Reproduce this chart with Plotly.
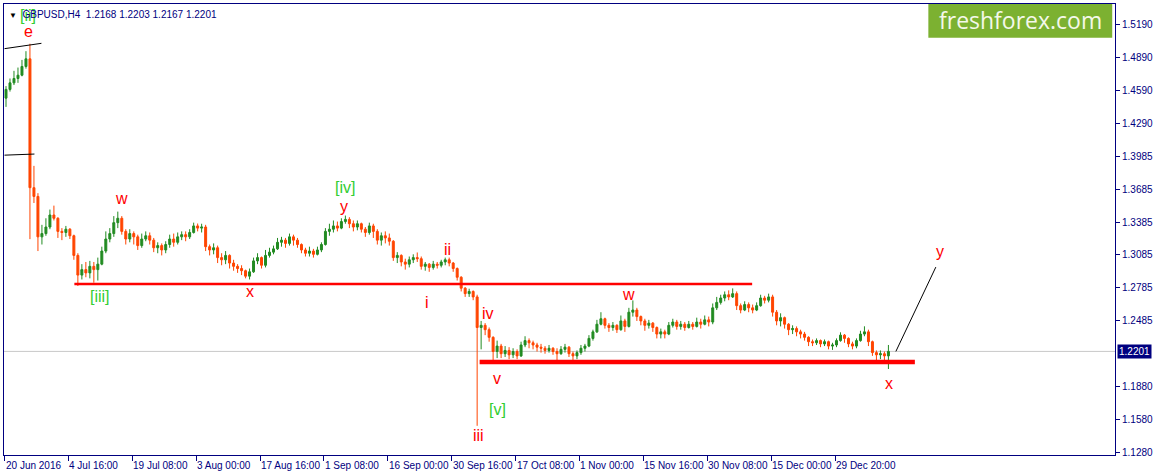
import plotly.graph_objects as go

# GBPUSD H4, one candle here = 4 H4 bars (16 hours)
BARS_PER_CANDLE = 4
first_open = 1.4520

closes = [
    1.4600, 1.4660, 1.4700, 1.4730, 1.4810, 1.4880, 1.3700, 1.3620, 1.3250, 1.3280,
    1.3340, 1.3450, 1.3420, 1.3300, 1.3290, 1.3320, 1.3260, 1.3080, 1.2900, 1.2950,
    1.2920, 1.2980, 1.2950, 1.3000, 1.3120, 1.3230, 1.3280, 1.3380, 1.3420, 1.3300,
    1.3230, 1.3280, 1.3250, 1.3170, 1.3230, 1.3260, 1.3220, 1.3150, 1.3170, 1.3130,
    1.3180, 1.3230, 1.3200, 1.3250, 1.3270, 1.3250, 1.3290, 1.3350, 1.3330, 1.3340,
    1.3160, 1.3130, 1.3150, 1.3060, 1.3040, 1.3080, 1.3010, 1.2980, 1.2960, 1.2940,
    1.2890, 1.2930, 1.3030, 1.3060, 1.2990, 1.3080, 1.3110, 1.3140, 1.3200, 1.3220,
    1.3190, 1.3250, 1.3220, 1.3180, 1.3130, 1.3100, 1.3120, 1.3090, 1.3130, 1.3180,
    1.3300, 1.3320, 1.3350, 1.3330, 1.3390, 1.3410, 1.3370, 1.3340, 1.3370, 1.3320,
    1.3290, 1.3350, 1.3300, 1.3220, 1.3260, 1.3240, 1.3210, 1.3060, 1.3080, 1.3020,
    1.3000, 1.3040, 1.3060, 1.3050, 1.2980, 1.3000, 1.2970, 1.3000, 1.2990, 1.3020,
    1.3040, 1.3010, 1.2960, 1.2880, 1.2780, 1.2730, 1.2750, 1.2700, 1.2420, 1.2440,
    1.2400, 1.2330, 1.2200, 1.2250, 1.2180, 1.2210, 1.2170, 1.2200, 1.2160, 1.2260,
    1.2300, 1.2280, 1.2260, 1.2240, 1.2230, 1.2210, 1.2230, 1.2200, 1.2180, 1.2220,
    1.2240, 1.2180, 1.2160, 1.2190, 1.2230, 1.2250, 1.2320, 1.2380, 1.2450, 1.2500,
    1.2440, 1.2420, 1.2440, 1.2400, 1.2480, 1.2430, 1.2560, 1.2580, 1.2520, 1.2480,
    1.2440, 1.2460, 1.2420, 1.2360, 1.2380, 1.2360, 1.2440, 1.2470, 1.2430, 1.2450,
    1.2420, 1.2450, 1.2430, 1.2470, 1.2450, 1.2490, 1.2470, 1.2600, 1.2650, 1.2690,
    1.2720, 1.2700, 1.2730, 1.2620, 1.2580, 1.2630, 1.2600, 1.2580, 1.2620, 1.2690,
    1.2670, 1.2700, 1.2560, 1.2480, 1.2510, 1.2450, 1.2400, 1.2410, 1.2380, 1.2360,
    1.2330, 1.2290, 1.2280, 1.2300, 1.2270, 1.2290, 1.2250, 1.2260, 1.2300, 1.2350,
    1.2320, 1.2270, 1.2250, 1.2300, 1.2360, 1.2380, 1.2290, 1.2190, 1.2170, 1.2180,
    1.2160, 1.2201,
]

highs = [
    1.4630, 1.4700, 1.4770, 1.4800, 1.4870, 1.4950, 1.5018, 1.3900, 1.3650, 1.3360,
    1.3420, 1.3500, 1.3536, 1.3430, 1.3330, 1.3350, 1.3330, 1.3270, 1.3100, 1.3000,
    1.3020, 1.3030, 1.3020, 1.3060, 1.3160, 1.3300, 1.3330, 1.3440, 1.3481, 1.3440,
    1.3320, 1.3320, 1.3300, 1.3270, 1.3280, 1.3300, 1.3290, 1.3240, 1.3200, 1.3190,
    1.3210, 1.3270, 1.3280, 1.3290, 1.3300, 1.3300, 1.3320, 1.3380, 1.3372, 1.3370,
    1.3360, 1.3180, 1.3190, 1.3170, 1.3100, 1.3120, 1.3090, 1.3040, 1.3000, 1.2990,
    1.2950, 1.2960, 1.3060, 1.3100, 1.3070, 1.3130, 1.3150, 1.3170, 1.3240, 1.3250,
    1.3240, 1.3280, 1.3270, 1.3240, 1.3190, 1.3150, 1.3160, 1.3140, 1.3160, 1.3200,
    1.3330, 1.3370, 1.3400, 1.3390, 1.3420, 1.3445, 1.3430, 1.3400, 1.3400, 1.3380,
    1.3340, 1.3380, 1.3370, 1.3320, 1.3290, 1.3300, 1.3280, 1.3220, 1.3110, 1.3090,
    1.3050, 1.3070, 1.3090, 1.3107, 1.3070, 1.3020, 1.3010, 1.3030, 1.3020, 1.3040,
    1.3060, 1.3060, 1.3020, 1.2970, 1.2890, 1.2790, 1.2775, 1.2760, 1.2720, 1.2480,
    1.2460, 1.2420, 1.2340, 1.2300, 1.2270, 1.2250, 1.2240, 1.2230, 1.2220, 1.2290,
    1.2340, 1.2320, 1.2300, 1.2280, 1.2270, 1.2250, 1.2260, 1.2240, 1.2230, 1.2250,
    1.2270, 1.2250, 1.2200, 1.2210, 1.2260, 1.2270, 1.2350, 1.2400, 1.2490, 1.2560,
    1.2510, 1.2460, 1.2470, 1.2450, 1.2530, 1.2500, 1.2600, 1.2668, 1.2600, 1.2530,
    1.2500, 1.2490, 1.2470, 1.2430, 1.2410, 1.2400, 1.2470, 1.2500, 1.2490, 1.2480,
    1.2470, 1.2480, 1.2470, 1.2510, 1.2500, 1.2530, 1.2520, 1.2640, 1.2700, 1.2720,
    1.2750, 1.2760, 1.2778, 1.2750, 1.2640, 1.2660, 1.2650, 1.2630, 1.2650, 1.2720,
    1.2710, 1.2730, 1.2720, 1.2580, 1.2550, 1.2520, 1.2460, 1.2440, 1.2430, 1.2400,
    1.2380, 1.2340, 1.2310, 1.2320, 1.2310, 1.2310, 1.2300, 1.2280, 1.2320, 1.2376,
    1.2360, 1.2330, 1.2290, 1.2320, 1.2390, 1.2431, 1.2400, 1.2300, 1.2210, 1.2210,
    1.2200, 1.2260,
]

lows = [
    1.4440, 1.4580, 1.4640, 1.4660, 1.4720, 1.4790, 1.3229, 1.3560, 1.3120, 1.3180,
    1.3260, 1.3320, 1.3400, 1.3240, 1.3220, 1.3250, 1.3230, 1.3040, 1.2800, 1.2860,
    1.2880, 1.2870, 1.2830, 1.2850, 1.2990, 1.3100, 1.3200, 1.3250, 1.3330, 1.3270,
    1.3180, 1.3200, 1.3180, 1.3130, 1.3150, 1.3210, 1.3180, 1.3110, 1.3100, 1.3080,
    1.3100, 1.3150, 1.3160, 1.3180, 1.3220, 1.3210, 1.3230, 1.3280, 1.3300, 1.3290,
    1.3120, 1.3080, 1.3090, 1.3010, 1.2990, 1.3000, 1.2960, 1.2940, 1.2920, 1.2900,
    1.2870, 1.2860, 1.2920, 1.3000, 1.2960, 1.2970, 1.3060, 1.3090, 1.3130, 1.3160,
    1.3150, 1.3170, 1.3170, 1.3150, 1.3100, 1.3070, 1.3070, 1.3060, 1.3080, 1.3110,
    1.3170, 1.3260, 1.3290, 1.3300, 1.3320, 1.3370, 1.3330, 1.3300, 1.3310, 1.3290,
    1.3250, 1.3270, 1.3240, 1.3180, 1.3170, 1.3190, 1.3170, 1.3030, 1.3010, 1.2980,
    1.2950, 1.2970, 1.3010, 1.3020, 1.2950, 1.2940, 1.2930, 1.2950, 1.2960, 1.2970,
    1.2990, 1.2980, 1.2930, 1.2850, 1.2750, 1.2700, 1.2700, 1.2670, 1.1520, 1.2220,
    1.2350, 1.2290, 1.2090, 1.2140, 1.2140, 1.2150, 1.2130, 1.2140, 1.2130, 1.2150,
    1.2240, 1.2230, 1.2220, 1.2200, 1.2190, 1.2180, 1.2190, 1.2170, 1.2090, 1.2170,
    1.2190, 1.2150, 1.2120, 1.2130, 1.2170, 1.2200, 1.2240, 1.2300, 1.2370, 1.2440,
    1.2410, 1.2380, 1.2390, 1.2370, 1.2390, 1.2380, 1.2420, 1.2520, 1.2480, 1.2440,
    1.2390, 1.2410, 1.2380, 1.2320, 1.2320, 1.2320, 1.2350, 1.2420, 1.2400, 1.2400,
    1.2390, 1.2410, 1.2400, 1.2420, 1.2410, 1.2440, 1.2430, 1.2450, 1.2580, 1.2630,
    1.2660, 1.2670, 1.2690, 1.2580, 1.2550, 1.2570, 1.2560, 1.2550, 1.2570, 1.2610,
    1.2640, 1.2650, 1.2520, 1.2440, 1.2430, 1.2410, 1.2350, 1.2360, 1.2340, 1.2320,
    1.2300, 1.2250, 1.2250, 1.2260, 1.2240, 1.2250, 1.2220, 1.2215, 1.2240, 1.2290,
    1.2280, 1.2240, 1.2220, 1.2230, 1.2290, 1.2340, 1.2250, 1.2160, 1.2120, 1.2130,
    1.2120, 1.2040,
]

# last H4 bar shown in the header: open, high, low, close
last_bar = [1.2168, 1.2203, 1.2167, 1.2201]

# time axis: one label every 64 H4 bars
tick_bars = [0, 64, 128, 192, 256, 320, 384, 448, 512, 576, 640, 704, 768, 832]
tick_text = ["20 Jun 2016", "4 Jul 16:00", "19 Jul 08:00", "3 Aug 00:00", "17 Aug 16:00",
             "1 Sep 08:00", "16 Sep 00:00", "30 Sep 16:00", "17 Oct 08:00", "1 Nov 00:00",
             "15 Nov 16:00", "30 Nov 08:00", "15 Dec 00:00", "29 Dec 20:00"]

price_ticks = [1.5190, 1.4890, 1.4590, 1.4290, 1.3985, 1.3685, 1.3385, 1.3085,
               1.2785, 1.2485, 1.1880, 1.1580, 1.1280]

# Elliott wave marks: text, bar, price, colour
wave_text = ["[ii]", "e", "w", "[iii]", "x", "[iv]", "y", "ii", "i", "iv", "v", "[v]", "iii", "w", "y", "x"]
wave_bar = [24, 24, 117, 96, 246, 341, 340, 444, 423, 484, 493, 494, 475, 625, 937, 886]
wave_price = [1.5281, 1.5126, 1.3600, 1.2705, 1.2751, 1.3701, 1.3527, 1.3134,
              1.2650, 1.2550, 1.1956, 1.1673, 1.1435, 1.2723, 1.3116, 1.1910]
wave_green = [True, False, False, True, False, True, False, False,
              False, False, False, True, False, False, False, False]

# support levels (bar from, bar to, price, width)
levels = [(70, 749, 1.2819, 2.5), (476, 912, 1.2105, 4.5)]
# black trend lines (bar0, price0, bar1, price1)
trend_lines = [(0, 1.4973, 37, 1.5022), (0, 1.3998, 30, 1.4008), (893, 1.2201, 933, 1.2973)]

opens = [first_open] + closes[:-1]
xs = [BARS_PER_CANDLE * k + 1.5 for k in range(len(closes))]

NAVY = "#000080"
UP = "#228b22"
DOWN = "#ff4500"

fig = go.Figure(go.Candlestick(
    x=xs, open=opens, high=highs, low=lows, close=closes,
    increasing=dict(line=dict(color=UP, width=1), fillcolor=UP),
    decreasing=dict(line=dict(color=DOWN, width=1), fillcolor=DOWN),
    whiskerwidth=0, hoverinfo="skip", showlegend=False,
))

shapes = [dict(type="line", xref="paper", yref="y", x0=0, x1=1, y0=closes[-1], y1=closes[-1],
               line=dict(color="#c8c8c8", width=1), layer="below")]
for b0, b1, p, w in levels:
    shapes.append(dict(type="line", x0=b0, x1=b1, y0=p, y1=p, line=dict(color="#ff0000", width=w)))
for b0, p0, b1, p1 in trend_lines:
    shapes.append(dict(type="line", x0=b0, x1=b1, y0=p0, y1=p1, line=dict(color="black", width=1)))
# watermark box
shapes.append(dict(type="rect", xref="paper", yref="paper", x0=0.832, x1=0.9975, y0=0.925, y1=1.0,
                   fillcolor="#7cb131", line=dict(width=0)))

annotations = []
for t, b, p, g in zip(wave_text, wave_bar, wave_price, wave_green):
    annotations.append(dict(x=b, y=p, text=t, showarrow=False,
                            font=dict(family="Liberation Sans", size=16,
                                      color="#32cd32" if g else "#ff0000")))

# time labels start at their tick, as in the terminal
for b, t in zip(tick_bars, tick_text):
    annotations.append(dict(x=b, xref="x", y=0, yref="paper", xanchor="left", yanchor="top",
                            xshift=-1, yshift=-3, text=t, showarrow=False,
                            font=dict(family="Liberation Sans", size=10, color=NAVY)))

annotations.append(dict(xref="paper", yref="paper", x=0.9148, y=0.964, xanchor="center", yanchor="middle",
                        text="freshforex.com", showarrow=False,
                        font=dict(family="Open Sans", size=23, color="#f4f8ea")))
annotations.append(dict(xref="paper", yref="paper", x=0, y=1, xanchor="left", yanchor="top",
                        xshift=3, yshift=-3,
                        text="<span style='color:black;font-size:8px'>▼</span>  GBPUSD,H4  "
                             + " ".join(f"{v:.4f}" for v in last_bar),
                        showarrow=False, font=dict(family="Liberation Sans", size=10, color=NAVY)))
annotations.append(dict(xref="paper", yref="y", x=1, y=closes[-1], xanchor="left", yanchor="middle",
                        xshift=2, text=f"{closes[-1]:.4f}", showarrow=False, bgcolor=NAVY, borderpad=1,
                        font=dict(family="Liberation Sans", size=10, color="white")))

fig.update_layout(
    width=1156, height=476,
    margin=dict(l=3, r=40, t=3, b=21),
    paper_bgcolor="white", plot_bgcolor="white",
    boxgap=0.3,
    shapes=shapes, annotations=annotations,
    xaxis=dict(range=[-0.5, 1112.5], rangeslider=dict(visible=False), showgrid=False, zeroline=False,
               tickmode="array", tickvals=tick_bars, showticklabels=False, ticks="outside", ticklen=5,
               tickcolor=NAVY, showline=True, linecolor=NAVY, linewidth=1, mirror=True),
    yaxis=dict(range=[1.12526, 1.5382], side="right", showgrid=False, zeroline=False,
               tickmode="array", tickvals=price_ticks, ticktext=[f"{v:.4f}" for v in price_ticks],
               ticks="outside", ticklen=4, tickcolor=NAVY, showline=True, linecolor=NAVY,
               linewidth=1, mirror=True,
               tickfont=dict(family="Liberation Sans", size=10, color=NAVY)),
)

# the page body has a default 8px margin; drop it so the figure sits at the window corner
fig.write_html("out.html", config={"displayModeBar": False},
               post_script="document.body.style.margin='0px';")
